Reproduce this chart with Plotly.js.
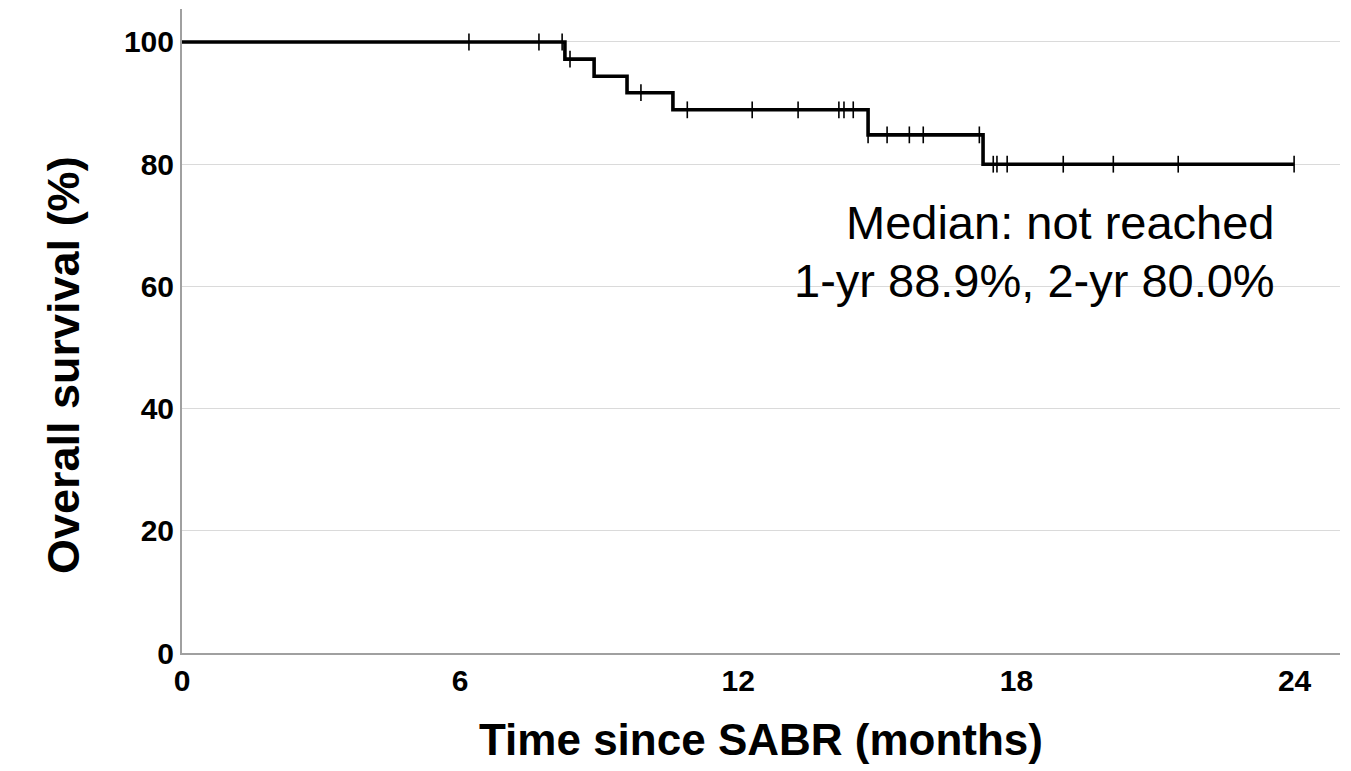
<!DOCTYPE html>
<html>
<head>
<meta charset="utf-8">
<script src="https://cdn.plot.ly/plotly-3.0.1.min.js"></script>
<style>html,body{margin:0;padding:0;background:#fff;}#chart{width:1351px;height:771px;}</style>
</head>
<body>
<div id="chart"></div>
<script>
// Kaplan-Meier data (months, %)
const eventTimes = [8.26, 8.89, 9.60, 10.59, 14.80, 17.28];
const survivalAfterEvent = [97.2, 94.4, 91.7, 88.9, 84.8, 80.0];
const censorTimes = [6.19, 7.70, 8.20, 8.37, 9.90, 10.90, 12.30, 13.29, 14.17, 14.28, 14.48, 14.80,
  15.21, 15.69, 15.99, 17.20, 17.50, 17.58, 17.80, 19.01, 20.09, 21.49, 23.99];
const lastFollowUp = 23.99;
const xTickVals = [0, 6, 12, 18, 24];
const yTickVals = [0, 20, 40, 60, 80, 100];
const annotationLines = ["Median: not reached", "1-yr 88.9%, 2-yr 80.0%"];
const yTitle = "Overall survival (%)";
const xTitle = "Time since SABR (months)";

function survivalAt(t) {
  let s = 100;
  for (let i = 0; i < eventTimes.length; i++) if (t >= eventTimes[i]) s = survivalAfterEvent[i];
  return s;
}
const lineX = [0].concat(eventTimes, [lastFollowUp]);
const lineY = [100].concat(survivalAfterEvent, [survivalAfterEvent[survivalAfterEvent.length - 1]]);

const traces = [
  {x: lineX, y: lineY, type: 'scatter', mode: 'lines', line: {shape: 'hv', color: '#000', width: 3.6}, hoverinfo: 'skip', showlegend: false},
  {x: censorTimes, y: censorTimes.map(survivalAt), type: 'scatter', mode: 'markers',
   marker: {symbol: 'line-ns', size: 12, line: {color: '#000', width: 1.6}}, showlegend: false}
];

const FONT = 'Liberation Sans, Arial, sans-serif';
const layout = {
  width: 1351, height: 771,
  margin: {l: 182, r: 11, t: 9, b: 118},
  paper_bgcolor: '#fff', plot_bgcolor: '#fff',
  showlegend: false,
  xaxis: {
    range: [0, 24.98], tickvals: xTickVals, ticktext: xTickVals.map(String),
    showgrid: false, zeroline: false, showline: true, linecolor: '#a0a0a0', linewidth: 2,
    ticks: '', tickfont: {family: FONT, size: 30, color: '#000', weight: 'bold'},
    title: {text: xTitle, font: {family: FONT, size: 44, color: '#000', weight: 'bold'}, standoff: 28},
    automargin: false
  },
  yaxis: {
    range: [0, 105.4], tickvals: yTickVals, ticktext: yTickVals.map(String),
    showgrid: true, gridcolor: '#dadada', gridwidth: 1, zeroline: false,
    showline: true, linecolor: '#a0a0a0', linewidth: 2,
    ticks: '', tickfont: {family: FONT, size: 30, color: '#000', weight: 'bold'},
    automargin: false
  },
  annotations: [
    {xref: 'paper', yref: 'paper', x: -0.1028, y: 0.447, xanchor: 'center', yanchor: 'middle', showarrow: false,
     textangle: -90, text: yTitle, font: {family: FONT, size: 45, color: '#000', weight: 'bold'}},
    {xref: 'paper', yref: 'paper', x: 0.946, y: 0.669, xanchor: 'right', yanchor: 'middle', showarrow: false,
     text: annotationLines[0], font: {family: FONT, size: 47, color: '#000'}},
    {xref: 'paper', yref: 'paper', x: 0.946, y: 0.579, xanchor: 'right', yanchor: 'middle', showarrow: false,
     text: annotationLines[1], font: {family: FONT, size: 47, color: '#000'}}
  ]
};
Plotly.newPlot('chart', traces, layout, {displayModeBar: false, staticPlot: true});
</script>
</body>
</html>
